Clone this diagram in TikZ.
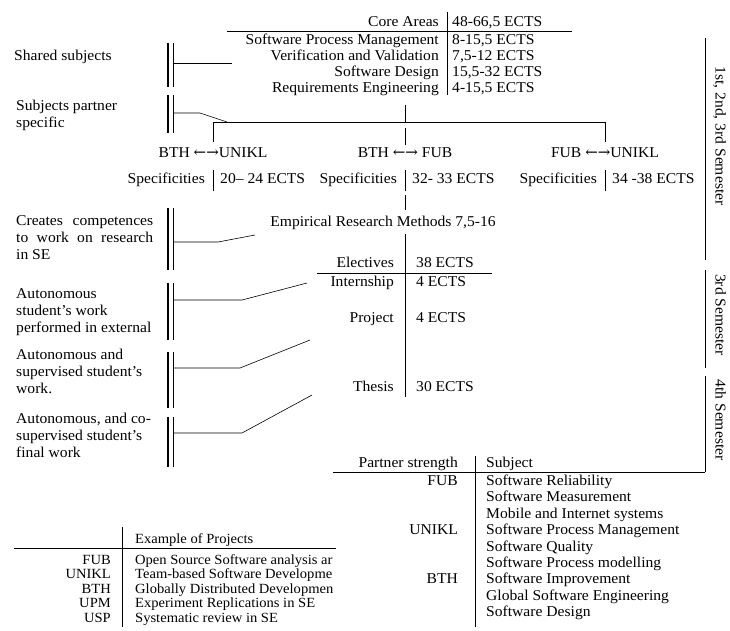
\documentclass[tikz,border=0pt]{standalone}
\usepackage{fontspec}
\setmainfont{Liberation Serif}[FakeStretch=1.04]
\newfontfamily\arr{DejaVu Serif}
\begin{document}
\begin{tikzpicture}[x=1pt,y=-1pt,
 lbl/.style={inner sep=0pt, text height=10pt, text depth=3pt, font=\fontsize{15}{17}\selectfont},
 rl/.style={lbl, anchor=east},
 ll/.style={lbl, anchor=west},
 cl/.style={lbl, anchor=center},
 xl/.style={inner sep=0pt, text height=9.5pt, text depth=3pt, font=\fontsize{14}{15}\selectfont},
 xrl/.style={xl, anchor=east},
 xll/.style={xl, anchor=west},
 note/.style={inner sep=0pt, anchor=north west, align=left, font=\fontsize{15}{17}\selectfont},
 sem/.style={lbl, rotate=-90, anchor=center},
 rulel/.style={line width=0.9pt},
 sepl/.style={line width=0.9pt},
 barthick/.style={line width=1.4pt},
 barthin/.style={line width=0.6pt},
 link/.style={line width=0.6pt},
]
\useasboundingbox (0,0) rectangle (730,630);

% ---------- Core areas table ----------
\node[rl] (caH) at (439,23) {Core Areas};
\node[ll] (caV) at (452,23) {48-66,5 ECTS};
\node[rl] (c1) at (439,41) {Software Process Management};
\node[ll] (c1v) at (452,41) {8-15,5 ECTS};
\node[rl] (c2) at (439,57) {Verification and Validation};
\node[ll] (c2v) at (452,57) {7,5-12 ECTS};
\node[rl] (c3) at (439,73) {Software Design};
\node[ll] (c3v) at (452,73) {15,5-32 ECTS};
\node[rl] (c4) at (439,89) {Requirements Engineering};
\node[ll] (c4v) at (452,89) {4-15,5 ECTS};
\coordinate (caRL) at (227,31); \coordinate (caRR) at (572,31);
\draw[rulel] (caRL) -- (caRR);
\coordinate (caST) at (447,12); \coordinate (caSB) at (447,95);
\draw[sepl] (caST) -- (caSB);

% ---------- partner pairs ----------
\coordinate (coreB) at (405,105);
\coordinate (hL) at (213,122); \coordinate (hM) at (405,122); \coordinate (hR) at (605,122);
\draw[link] (hL) -- (hR);
\draw[link] (hM) -- (coreB);
\node[cl] (p1) at (213,154) {BTH {\arr ←→}UNIKL};
\node[cl] (p2) at (405,154) {BTH {\arr ←→} FUB};
\node[cl] (p3) at (605,154) {FUB {\arr ←→}UNIKL};
\draw[link] (hL) -- (213,142);
\draw[link] (405,128) -- (405,145);
\draw[link] (hR) -- (605,142);

\node[rl] (s1) at (205,180) {Specificities};
\node[ll] (s1v) at (220,180) {20– 24 ECTS};
\node[rl] (s2) at (397,180) {Specificities};
\node[ll] (s2v) at (412,180) {32- 33 ECTS};
\node[rl] (s3) at (597,180) {Specificities};
\node[ll] (s3v) at (612,180) {34 -38 ECTS};
\draw[sepl] (213,170) -- (213,191);
\draw[sepl] (405,170) -- (405,191);
\draw[sepl] (605,170) -- (605,191);

% ---------- empirical ----------
\node[cl] (emp) at (383,223) {Empirical Research Methods 7,5-16};
\draw[link] (405,195) -- (405,210);
\draw[link] (405,234) -- (405,252);

% ---------- electives ----------
\node[rl] (eH) at (394,264) {Electives};
\node[ll] (eV) at (416,264) {38 ECTS};
\node[rl] (e1) at (394,283) {Internship};
\node[ll] (e1v) at (416,283) {4 ECTS};
\node[rl] (e2) at (394,319) {Project};
\node[ll] (e2v) at (416,319) {4 ECTS};
\node[rl] (e3) at (394,388) {Thesis};
\node[ll] (e3v) at (416,388) {30 ECTS};
\draw[rulel] (317,273) -- (492,273);
\draw[sepl] (405,252) -- (405,397);

% ---------- left labels with brackets ----------
\node[note] (lShared) at (14,50) {Shared subjects};
\node[note] (lPartner) at (16,100) {Subjects partner\\specific};
\node[note] (lCreates) at (16,215) {\makebox[137pt][s]{Creates competences}\\\makebox[137pt][s]{to work on research}\\in SE};
\node[note] (lAuto1) at (16,288) {Autonomous\\student’s work\\performed in external};
\node[note] (lAuto2) at (16,349) {Autonomous and\\supervised student’s\\work.};
\node[note] (lAuto3) at (16,413) {Autonomous, and co-\\supervised student’s\\final work};

% bars
\foreach \t/\b in {43/87, 95/133, 208/270, 283/340, 352/408, 417/467}{
  \draw[barthick] (168,\t) -- (168,\b);
  \draw[barthin] (173,\t) -- (173,\b);
}
% links
\draw[link] (173,63) -- (232,63);
\draw[link] (173,113) -- (200,113) -- (227,122);
\draw[link] (173,242) -- (218,242) -- (255,235);
\draw[link] (173,300) -- (242,300) -- (307,283);
\draw[link] (173,368) -- (240,368) -- (310,340);
\draw[link] (173,433) -- (242,433) -- (312,395);

% ---------- semester bars ----------
\draw[barthin] (705,38) -- (705,260);
\draw[barthin] (705,270) -- (705,368);
\draw[barthin] (705,376) -- (705,472);
\node[sem] (sem1) at (719,136) {1st, 2nd, 3rd Semester};
\node[sem] (sem2) at (719,315) {3rd Semester};
\node[sem] (sem3) at (719,420) {4th Semester};

% ---------- partner strength table ----------
\node[rl] (psH) at (458,464) {Partner strength};
\node[ll] (psS) at (486,464) {Subject};
\draw[rulel] (333,472) -- (705,472);
\draw[sepl] (475,456) -- (475,627);
\node[rl] (psF) at (458,482) {FUB};
\node[rl] (psU) at (458,531.2) {UNIKL};
\node[rl] (psB) at (458,580.4) {BTH};
\node[ll] (r1) at (486,482) {Software Reliability};
\node[ll] (r2) at (486,498.4) {Software Measurement};
\node[ll] (r3) at (486,514.8) {Mobile and Internet systems};
\node[ll] (r4) at (486,531.2) {Software Process Management};
\node[ll] (r5) at (486,547.6) {Software Quality};
\node[ll] (r6) at (486,564) {Software Process modelling};
\node[ll] (r7) at (486,580.4) {Software Improvement};
\node[ll] (r8) at (486,596.8) {Global Software Engineering};
\node[ll] (r9) at (486,613.2) {Software Design};

% ---------- example of projects ----------
\node[xll] (exH) at (135,540) {Example of Projects};
\draw[rulel] (14,548) -- (336,548);
\draw[sepl] (122,527) -- (122,627);
\node[xrl] (x1) at (111,561) {FUB};
\node[xrl] (x2) at (111,575.5) {UNIKL};
\node[xrl] (x3) at (111,590) {BTH};
\node[xrl] (x4) at (111,604.5) {UPM};
\node[xrl] (x5) at (111,619) {USP};
\begin{scope}
\clip (130,550) rectangle (336,630);
\node[xll] (x1v) at (135,561) {Open Source Software analysis ar};
\node[xll] (x2v) at (135,575.5) {Team-based Software Developme};
\node[xll] (x3v) at (135,590) {Globally Distributed Developmen};
\node[xll] (x4v) at (135,604.5) {Experiment Replications in SE};
\node[xll] (x5v) at (135,619) {Systematic review in SE};
\end{scope}
\end{tikzpicture}
\end{document}
